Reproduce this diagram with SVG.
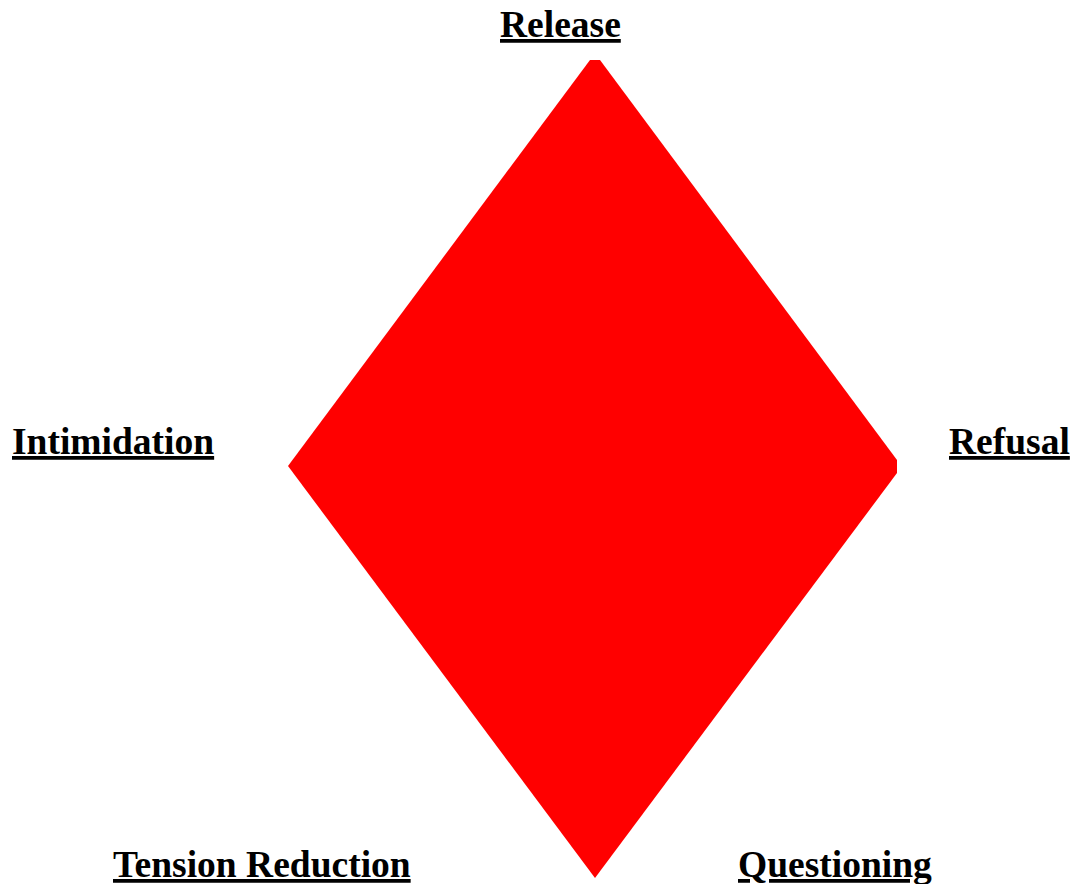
<svg xmlns="http://www.w3.org/2000/svg" width="1075" height="884" viewBox="0 0 1075 884">
<style>
.lbl{font-family:"Liberation Serif","Times New Roman",serif;font-weight:bold;font-size:37.5px;fill:#000;text-decoration:underline;text-decoration-thickness:3px}
</style>
<rect width="1075" height="884" fill="#fff"/>
<g id="diamond">
<polygon points="590,60 600,60 897,460 897,473 595,878 288,466" fill="#ff0000"/>
</g>
<g id="release"><text class="lbl" x="500" y="37">Release</text></g>
<g id="intimidation"><text class="lbl" x="12" y="454">Intimidation</text></g>
<g id="refusal"><text class="lbl" x="949" y="454">Refusal</text></g>
<g id="tension"><text class="lbl" x="113" y="877">Tension Reduction</text></g>
<g id="questioning"><text class="lbl" x="738" y="877">Questioning</text></g>
<g id="connectors"></g>
</svg>
